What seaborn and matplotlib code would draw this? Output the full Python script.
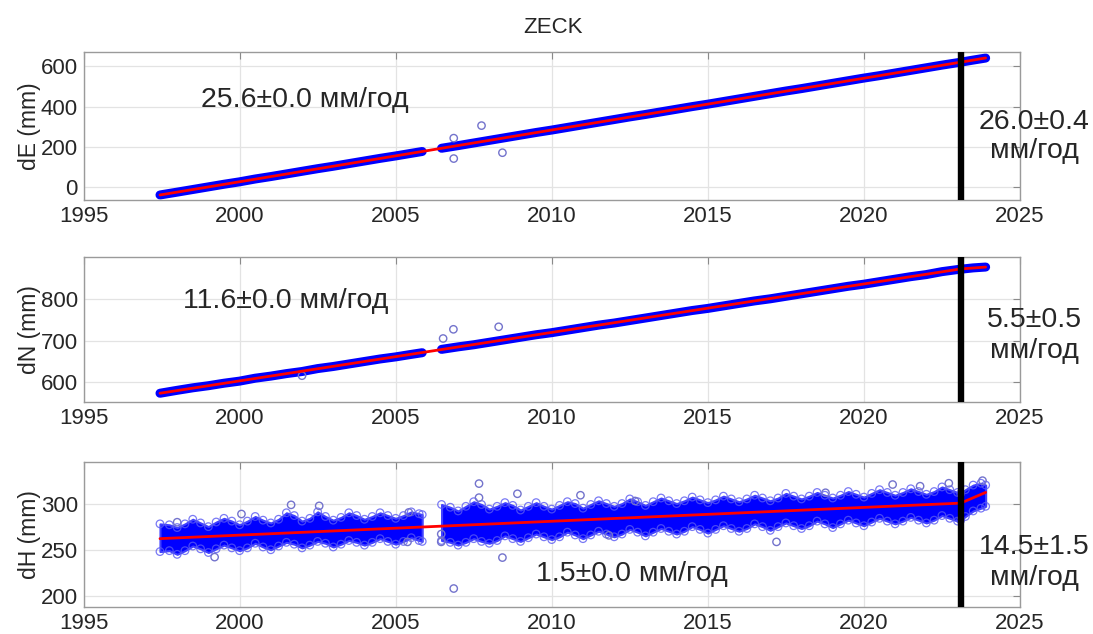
import numpy as np
import pandas as pd
import matplotlib
matplotlib.use("Agg")
import matplotlib.pyplot as plt
import seaborn as sns

# ---------------- data ----------------
station = "ZECK"
break_year = 2023.1
units_label = "мм/год"

# daily position series, summarised along the track (years, mm)
track_years = [1997.45, 1998.0, 1998.5, 1999.0, 1999.5, 2000.0, 2000.5, 2001.0, 2001.5,
               2002.0, 2002.5, 2003.0, 2003.5, 2004.0, 2004.5, 2005.0, 2005.5, 2005.85,
               2006.47, 2007.0, 2007.5, 2008.0, 2008.5, 2009.0, 2009.5, 2010.0, 2010.5,
               2011.0, 2011.5, 2012.0, 2012.5, 2013.0, 2013.5, 2014.0, 2014.5, 2015.0,
               2015.5, 2016.0, 2016.5, 2017.0, 2017.5, 2018.0, 2018.5, 2019.0, 2019.5,
               2020.0, 2020.5, 2021.0, 2021.5, 2022.0, 2022.5, 2023.0, 2023.5, 2023.9]
east_mm = [-37, -23, -10, 3, 16, 28, 42, 54, 67, 80, 93, 105, 118, 131, 144, 156, 169, 178,
           194, 207, 220, 233, 246, 259, 272, 284, 297, 310, 323, 336, 349, 361, 374, 387,
           400, 412, 425, 438, 451, 464, 477, 489, 502, 515, 528, 541, 553, 566, 579, 592,
           605, 617, 630, 640]
north_mm = [574, 581, 587, 592, 598, 603, 610, 615, 621, 626, 633, 638, 644, 650, 656, 661,
            667, 671, 679, 685, 690, 696, 702, 708, 714, 719, 725, 731, 737, 742, 748, 754,
            760, 766, 772, 777, 783, 789, 795, 800, 806, 812, 818, 824, 830, 835, 841, 847,
            853, 858, 865, 870, 874, 876]

# vertical component: spread of the daily solutions (upper / lower envelope)
up_years = [1997.45, 1997.75, 1998.0, 1998.25, 1998.5, 1998.75, 1999.0, 1999.25, 1999.5,
            1999.75, 2000.0, 2000.25, 2000.5, 2000.75, 2001.0, 2001.25, 2001.5, 2001.75,
            2002.0, 2002.25, 2002.5, 2002.75, 2003.0, 2003.25, 2003.5, 2003.75, 2004.0,
            2004.25, 2004.5, 2004.75, 2005.0, 2005.25, 2005.5, 2005.75, 2005.85,
            2006.47, 2006.75, 2007.0, 2007.25, 2007.5, 2007.75, 2008.0, 2008.25, 2008.5,
            2008.75, 2009.0, 2009.25, 2009.5, 2009.75, 2010.0, 2010.25, 2010.5, 2010.75,
            2011.0, 2011.25, 2011.5, 2011.75, 2012.0, 2012.25, 2012.5, 2012.75, 2013.0,
            2013.25, 2013.5, 2013.75, 2014.0, 2014.25, 2014.5, 2014.75, 2015.0, 2015.25,
            2015.5, 2015.75, 2016.0, 2016.25, 2016.5, 2016.75, 2017.0, 2017.25, 2017.5,
            2017.75, 2018.0, 2018.25, 2018.5, 2018.75, 2019.0, 2019.25, 2019.5, 2019.75,
            2020.0, 2020.25, 2020.5, 2020.75, 2021.0, 2021.25, 2021.5, 2021.75, 2022.0,
            2022.25, 2022.5, 2022.75, 2023.0, 2023.1, 2023.25, 2023.5, 2023.75, 2023.9]
up_high = [278, 277, 274, 278, 283, 279, 275, 280, 284, 281, 277, 281, 286, 282, 279, 283,
           290, 287, 281, 284, 291, 286, 282, 285, 290, 287, 283, 286, 290, 287, 284, 287,
           291, 289, 288,
           299, 296, 292, 297, 302, 299, 294, 297, 301, 298, 293, 297, 301, 297, 294, 298,
           302, 300, 295, 299, 303, 300, 297, 300, 305, 302, 298, 302, 306, 303, 300, 303,
           307, 304, 301, 304, 308, 305, 302, 305, 309, 306, 303, 306, 311, 308, 305, 308,
           312, 309, 306, 309, 313, 310, 307, 311, 315, 312, 309, 312, 316, 313, 310, 313,
           318, 315, 312, 311, 315, 320, 322, 320]
up_low = [248, 249, 245, 249, 254, 251, 247, 251, 255, 252, 249, 252, 257, 253, 250, 254,
          258, 256, 252, 255, 259, 257, 253, 256, 260, 258, 255, 258, 262, 259, 256, 259,
          263, 260, 259,
          260, 258, 255, 258, 262, 259, 257, 260, 265, 262, 259, 263, 267, 264, 261, 264,
          269, 266, 262, 266, 270, 267, 264, 267, 272, 269, 265, 269, 273, 270, 267, 270,
          275, 272, 268, 272, 276, 273, 270, 273, 278, 275, 271, 275, 279, 276, 273, 276,
          281, 278, 274, 278, 282, 279, 276, 280, 284, 281, 278, 281, 285, 282, 279, 282,
          287, 284, 281, 282, 286, 292, 295, 297]

# isolated solutions away from the main cloud
east_out_years = [2006.86, 2006.86, 2007.75, 2008.42]
east_out_mm = [244, 143, 306, 172]
north_out_years = [2006.52, 2006.85, 2008.30, 2002.0]
north_out_mm = [705, 727, 733, 616]
up_out_years = [2006.86, 2008.42, 1999.2, 2007.67, 2007.67, 2008.9, 2000.06, 2001.65,
                2002.55, 1998.0, 2006.46, 2006.46, 2005.42, 2005.38, 2017.2, 2023.8,
                2018.77, 2022.72, 2010.92, 2011.83, 2012.67, 2020.92, 2021.8]
up_out_mm = [208, 241.5, 242, 321.6, 306.4, 310.6, 288.7, 298.6, 297.5, 279.8, 267, 258.5,
             290.4, 258.5, 258.5, 324.8, 311.7, 322, 309, 265.6, 302.8, 320.6, 318.8]

# velocity model: start of the fit, rates (mm/yr) and formal errors before / after the break
fit_start = 1997.45
fit_end = 2023.9
east_fit0, north_fit0, up_fit0 = -37.0, 574.0, 262.0
east_rate, east_rate_err = [25.6, 26.0], [0.0, 0.4]
north_rate, north_rate_err = [11.6, 5.5], [0.0, 0.5]
up_rate, up_rate_err = [1.5, 14.5], [0.0, 1.5]

# ---------------- style ----------------
sns.set_theme(style="white")
plt.rcParams["font.family"] = ["Liberation Sans", "DejaVu Sans"]

BLUE = (0.0, 0.0, 1.0)
RED = (1.0, 0.0, 0.0)
TXT = "#262626"
ANN = 20.5
DATA_GAP = 0.6  # years without solutions that split the series


def trend_frame(v0, rates):
    v1 = v0 + rates[0] * (break_year - fit_start)
    v2 = v1 + rates[1] * (fit_end - break_year)
    return pd.DataFrame({"year": [fit_start, break_year, fit_end], "mm": [v0, v1, v2]})


def segments(years):
    yrs = np.asarray(years, dtype=float)
    return np.concatenate([[0], np.cumsum(np.diff(yrs) > DATA_GAP)])


def style_axes(ax, ylim, yticks, ylabel):
    ax.set_xlim(1995, 2025)
    ax.set_ylim(*ylim)
    ax.set_xticks(range(1995, 2026, 5))
    ax.set_yticks(yticks)
    ax.grid(True, color="#e3e3e3", lw=0.9)
    ax.set_axisbelow(True)
    for s in ax.spines.values():
        s.set_color("#9a9a9a")
        s.set_linewidth(1.0)
    ax.tick_params(direction="in", length=5, width=0.8, color="#8a8a8a",
                   top=True, right=True, labelsize=16, labelcolor=TXT, pad=4)
    ax.set_xlabel("")
    ax.set_ylabel(ylabel, fontsize=16.5, color=TXT, labelpad=0)


def rate_text(r, e):
    return f"{r:.1f}\u00b1{e:.1f}"


fig = plt.figure(figsize=(10.93, 6.34), dpi=100)
left, width = 0.0764, 0.8568
boxes = [(0.6845, 0.2335), (0.3659, 0.2287), (0.0426, 0.2287)]
axes = [fig.add_axes([left, b, width, h]) for b, h in boxes]

# ---- East / North: dense daily cloud drawn as a thick track ----
for ax, vals, oy, ov, v0, rates, errs, ylim, yt, ylab, ltxt_pos, rt_y in [
    (axes[0], east_mm, east_out_years, east_out_mm, east_fit0, east_rate, east_rate_err,
     (-62, 670), [0, 200, 400, 600], "dE (mm)", (1998.75, 434), (0.807, 0.762)),
    (axes[1], north_mm, north_out_years, north_out_mm, north_fit0, north_rate, north_rate_err,
     (553, 900), [600, 700, 800], "dN (mm)", (1998.2, 795), (0.495, 0.447)),
]:
    df = pd.DataFrame({"year": track_years, "mm": vals, "seg": segments(track_years)})
    for sid, part in df.groupby("seg"):
        sns.lineplot(data=part, x="year", y="mm", estimator=None, sort=False,
                     color=BLUE, lw=6.5, solid_capstyle="round", ax=ax, zorder=2)
    sns.scatterplot(x=oy, y=ov, marker="o", s=28, facecolor="none",
                    edgecolor=(0.45, 0.45, 0.8), linewidth=1.0, ax=ax, zorder=2)
    sns.lineplot(data=trend_frame(v0, rates), x="year", y="mm", estimator=None, sort=False,
                 color=RED, lw=2.0, ax=ax, zorder=3)
    ax.axvline(break_year, color="black", lw=4.6, zorder=4)
    ax.text(ltxt_pos[0], ltxt_pos[1], f"{rate_text(rates[0], errs[0])} {units_label}",
            fontsize=ANN, color=TXT, ha="left", va="center")
    fig.text(0.946, rt_y[0], rate_text(rates[1], errs[1]), fontsize=ANN, color=TXT,
             ha="center", va="center")
    fig.text(0.946, rt_y[1], units_label, fontsize=ANN, color=TXT, ha="center", va="center")
    style_axes(ax, ylim, yt, ylab)

# ---- Up: wide cloud with seasonal spread ----
ax = axes[2]
uy = np.asarray(up_years, dtype=float)
useg = segments(up_years)
for sid in np.unique(useg):
    m = useg == sid
    ax.fill_between(uy[m], np.asarray(up_low)[m], np.asarray(up_high)[m],
                    color=BLUE, lw=1.5, edgecolor=(0.25, 0.25, 1.0), zorder=2)
env = pd.DataFrame({"year": list(up_years) * 2, "mm": list(up_high) + list(up_low)})
sns.scatterplot(data=env, x="year", y="mm", marker="o", s=30, facecolor="none",
                edgecolor=(0.35, 0.35, 0.95), linewidth=0.9, alpha=0.8, ax=ax, zorder=2)
sns.scatterplot(x=up_out_years, y=up_out_mm, marker="o", s=28, facecolor="none",
                edgecolor=(0.45, 0.45, 0.8), linewidth=1.0, ax=ax, zorder=2)
sns.lineplot(data=trend_frame(up_fit0, up_rate), x="year", y="mm", estimator=None,
             sort=False, color=RED, lw=2.0, ax=ax, zorder=3)
ax.axvline(break_year, color="black", lw=4.6, zorder=4)
ax.text(2009.5, 224, f"{rate_text(up_rate[0], up_rate_err[0])} {units_label}",
        fontsize=ANN, color=TXT, ha="left", va="center")
fig.text(0.946, 1 - 547 / 634, rate_text(up_rate[1], up_rate_err[1]), fontsize=ANN,
         color=TXT, ha="center", va="center")
fig.text(0.946, 1 - 578 / 634, units_label, fontsize=ANN, color=TXT, ha="center", va="center")
style_axes(ax, (188, 345), [200, 250, 300], "dH (mm)")

fig.text(0.506, 0.956, station, fontsize=16, color=TXT, ha="center", va="center")

fig.savefig("out.png", dpi=100, facecolor="white")
